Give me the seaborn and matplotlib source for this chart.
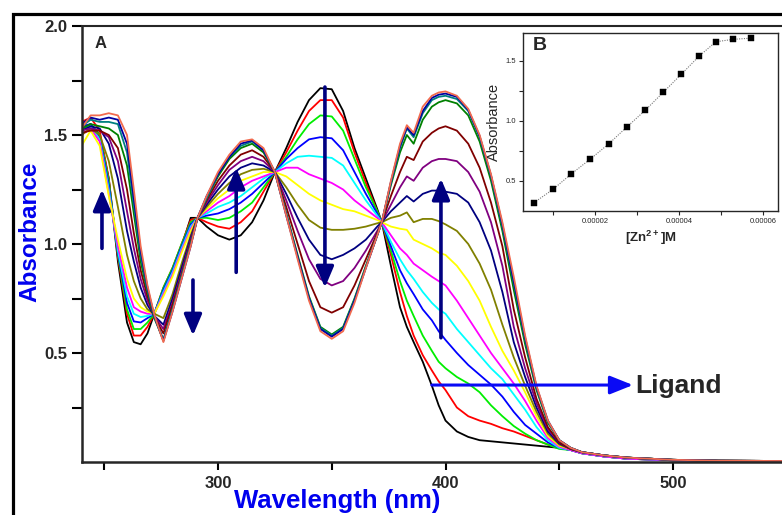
import matplotlib
matplotlib.use("Agg")
import matplotlib.pyplot as plt
from matplotlib.patches import Rectangle
from matplotlib.ticker import FixedLocator, FuncFormatter
import pandas as pd
import seaborn as sns

# ---- UV-vis titration spectra (absorbance vs wavelength, nm) ----
wavelength = [240, 244, 248, 252, 256, 260, 263, 266, 269, 272, 276, 280, 284, 288, 291,
              295, 300, 305, 310, 315, 320, 325,
              330, 335, 340, 345, 350, 355, 360, 365, 370, 372,
              376, 380, 383, 386, 390, 394, 397, 400,
              405, 410, 415, 420, 425, 430, 435, 440, 445, 450,
              455, 460, 470, 480, 500, 520, 560]

spec_01 = [1.52, 1.55, 1.50, 1.30, 0.92, 0.64, 0.55, 0.54, 0.59, 0.68, 0.79, 0.88, 0.99, 1.12, 1.12,
           1.08, 1.04, 1.02, 1.04, 1.10, 1.20, 1.33,
           1.44, 1.56, 1.66, 1.715, 1.71, 1.61, 1.44, 1.30, 1.16, 1.10,
           0.90, 0.71, 0.62, 0.55, 0.46, 0.35, 0.26, 0.19,
           0.14, 0.115, 0.10, 0.095, 0.09, 0.085, 0.08, 0.075, 0.07, 0.065,
           0.055, 0.04, 0.025, 0.015, 0.008, 0.005, 0.003]
spec_02 = [1.56, 1.58, 1.52, 1.30, 0.94, 0.68, 0.58, 0.58, 0.62, 0.68, 0.80, 0.89, 1.00, 1.11, 1.12,
           1.10, 1.08, 1.07, 1.10, 1.15, 1.24, 1.33,
           1.42, 1.52, 1.61, 1.66, 1.66, 1.58, 1.42, 1.28, 1.15, 1.10,
           0.95, 0.78, 0.67, 0.58, 0.49, 0.42, 0.37, 0.33,
           0.25, 0.21, 0.19, 0.175, 0.155, 0.14, 0.12, 0.10, 0.08, 0.065,
           0.055, 0.04, 0.025, 0.015, 0.008, 0.005, 0.003]
spec_03 = [1.53, 1.55, 1.50, 1.29, 0.95, 0.70, 0.61, 0.61, 0.64, 0.68, 0.80, 0.89, 1.00, 1.10, 1.12,
           1.12, 1.11, 1.12, 1.15, 1.19, 1.26, 1.33,
           1.40, 1.48, 1.55, 1.59, 1.585, 1.52, 1.39, 1.26, 1.15, 1.10,
           0.97, 0.83, 0.74, 0.67, 0.58, 0.51, 0.46, 0.43,
           0.39, 0.36, 0.32, 0.26, 0.21, 0.165, 0.13, 0.10, 0.08, 0.06,
           0.055, 0.04, 0.025, 0.015, 0.008, 0.005, 0.003]
spec_04 = [1.54, 1.55, 1.49, 1.27, 0.96, 0.73, 0.645, 0.64, 0.66, 0.68, 0.79, 0.88, 0.99, 1.09, 1.12,
           1.13, 1.14, 1.16, 1.19, 1.23, 1.28, 1.33,
           1.39, 1.44, 1.48, 1.49, 1.485, 1.43, 1.33, 1.23, 1.14, 1.10,
           0.99, 0.88, 0.82, 0.77, 0.70, 0.65, 0.60, 0.56,
           0.50, 0.445, 0.40, 0.355, 0.30, 0.23, 0.17, 0.13, 0.09, 0.065,
           0.055, 0.04, 0.025, 0.015, 0.008, 0.005, 0.003]
spec_05 = [1.52, 1.54, 1.48, 1.25, 0.97, 0.76, 0.68, 0.665, 0.67, 0.68, 0.78, 0.87, 0.98, 1.08, 1.12,
           1.14, 1.17, 1.19, 1.22, 1.26, 1.30, 1.33,
           1.37, 1.40, 1.405, 1.40, 1.395, 1.36, 1.28, 1.20, 1.13, 1.10,
           1.01, 0.93, 0.88, 0.84, 0.78, 0.73, 0.70, 0.68,
           0.61, 0.55, 0.49, 0.43, 0.38, 0.31, 0.24, 0.16, 0.10, 0.065,
           0.055, 0.04, 0.025, 0.015, 0.008, 0.005, 0.003]
spec_06 = [1.50, 1.53, 1.47, 1.23, 0.99, 0.80, 0.71, 0.69, 0.68, 0.68, 0.77, 0.86, 0.97, 1.07, 1.12,
           1.15, 1.19, 1.22, 1.26, 1.29, 1.31, 1.33,
           1.35, 1.35, 1.32, 1.30, 1.28, 1.25, 1.20, 1.16, 1.12, 1.10,
           1.04, 0.98, 0.95, 0.91, 0.88, 0.85, 0.83, 0.81,
           0.74, 0.66, 0.58, 0.50, 0.43, 0.36, 0.28, 0.19, 0.11, 0.07,
           0.055, 0.04, 0.025, 0.015, 0.008, 0.005, 0.003]
spec_07 = [1.45, 1.52, 1.45, 1.22, 1.02, 0.84, 0.75, 0.71, 0.69, 0.68, 0.76, 0.85, 0.96, 1.06, 1.12,
           1.16, 1.21, 1.25, 1.29, 1.31, 1.33, 1.33,
           1.31, 1.27, 1.23, 1.20, 1.18, 1.16, 1.15, 1.13, 1.11, 1.10,
           1.08, 1.07, 1.065, 1.02, 1.00, 0.98, 0.96, 0.95,
           0.90, 0.83, 0.74, 0.62, 0.51, 0.42, 0.32, 0.21, 0.12, 0.075,
           0.06, 0.045, 0.03, 0.02, 0.01, 0.006, 0.004]
spec_08 = [1.50, 1.53, 1.50, 1.38, 1.17, 0.95, 0.83, 0.75, 0.70, 0.68, 0.66, 0.77, 0.91, 1.04, 1.12,
           1.17, 1.23, 1.28, 1.32, 1.34, 1.345, 1.33,
           1.26, 1.18, 1.11, 1.075, 1.065, 1.065, 1.07, 1.08, 1.095, 1.10,
           1.12, 1.13, 1.145, 1.10, 1.115, 1.115, 1.105, 1.09,
           1.06, 1.00, 0.91, 0.79, 0.63, 0.48, 0.35, 0.23, 0.13, 0.08,
           0.06, 0.045, 0.03, 0.02, 0.01, 0.006, 0.004]
spec_09 = [1.52, 1.54, 1.53, 1.46, 1.30, 1.06, 0.92, 0.80, 0.72, 0.67, 0.63, 0.75, 0.89, 1.03, 1.12,
           1.18, 1.25, 1.31, 1.35, 1.37, 1.36, 1.33,
           1.23, 1.12, 1.02, 0.95, 0.93, 0.95, 0.98, 1.02, 1.08, 1.10,
           1.15, 1.19, 1.22, 1.195, 1.23, 1.245, 1.245, 1.24,
           1.23, 1.19, 1.10, 0.97, 0.78, 0.55, 0.39, 0.25, 0.14, 0.085,
           0.06, 0.045, 0.03, 0.02, 0.01, 0.006, 0.004]
spec_10 = [1.52, 1.53, 1.52, 1.49, 1.38, 1.15, 0.98, 0.84, 0.74, 0.67, 0.61, 0.73, 0.87, 1.02, 1.12,
           1.19, 1.27, 1.34, 1.38, 1.40, 1.38, 1.33,
           1.20, 1.06, 0.93, 0.84, 0.81, 0.83, 0.89, 0.97, 1.06, 1.10,
           1.18, 1.26, 1.31, 1.29, 1.35, 1.38, 1.39, 1.39,
           1.38, 1.33, 1.24, 1.10, 0.90, 0.62, 0.43, 0.27, 0.15, 0.09,
           0.06, 0.045, 0.03, 0.02, 0.01, 0.006, 0.004]
spec_11 = [1.51, 1.52, 1.52, 1.50, 1.44, 1.25, 1.05, 0.88, 0.76, 0.665, 0.59, 0.72, 0.86, 1.01, 1.12,
           1.20, 1.29, 1.36, 1.41, 1.43, 1.40, 1.33,
           1.17, 1.00, 0.83, 0.71, 0.685, 0.71, 0.81, 0.93, 1.05, 1.10,
           1.22, 1.33, 1.40, 1.385, 1.47, 1.51, 1.53, 1.54,
           1.52, 1.46, 1.35, 1.19, 0.99, 0.70, 0.48, 0.29, 0.16, 0.09,
           0.06, 0.045, 0.03, 0.02, 0.01, 0.006, 0.004]
spec_12 = [1.53, 1.55, 1.54, 1.53, 1.50, 1.36, 1.14, 0.92, 0.78, 0.66, 0.56, 0.70, 0.85, 1.00, 1.12,
           1.21, 1.31, 1.39, 1.44, 1.46, 1.42, 1.33,
           1.14, 0.95, 0.76, 0.62, 0.585, 0.62, 0.75, 0.90, 1.04, 1.10,
           1.27, 1.42, 1.50, 1.46, 1.57, 1.63, 1.65, 1.66,
           1.645, 1.59, 1.47, 1.29, 1.06, 0.79, 0.54, 0.33, 0.18, 0.10,
           0.065, 0.045, 0.03, 0.02, 0.01, 0.006, 0.004]
spec_13 = [1.54, 1.57, 1.56, 1.56, 1.55, 1.42, 1.18, 0.95, 0.79, 0.665, 0.56, 0.70, 0.85, 1.00, 1.12,
           1.21, 1.32, 1.40, 1.45, 1.47, 1.43, 1.33,
           1.14, 0.94, 0.755, 0.615, 0.58, 0.615, 0.745, 0.895, 1.04, 1.10,
           1.28, 1.44, 1.53, 1.49, 1.60, 1.66, 1.675, 1.68,
           1.665, 1.61, 1.49, 1.31, 1.08, 0.82, 0.56, 0.34, 0.185, 0.10,
           0.065, 0.045, 0.03, 0.02, 0.01, 0.006, 0.004]
spec_14 = [1.55, 1.58, 1.57, 1.58, 1.57, 1.46, 1.21, 0.97, 0.80, 0.67, 0.555, 0.69, 0.84, 0.99, 1.12,
           1.22, 1.32, 1.40, 1.46, 1.475, 1.43, 1.33,
           1.13, 0.94, 0.75, 0.61, 0.575, 0.61, 0.74, 0.89, 1.04, 1.10,
           1.285, 1.45, 1.535, 1.50, 1.61, 1.67, 1.685, 1.69,
           1.675, 1.615, 1.495, 1.315, 1.09, 0.83, 0.57, 0.345, 0.19, 0.10,
           0.065, 0.045, 0.03, 0.02, 0.01, 0.006, 0.004]
spec_15 = [1.53, 1.59, 1.59, 1.60, 1.59, 1.50, 1.25, 0.99, 0.81, 0.675, 0.55, 0.69, 0.84, 0.99, 1.12,
           1.22, 1.33, 1.41, 1.47, 1.48, 1.44, 1.33,
           1.13, 0.93, 0.74, 0.60, 0.565, 0.60, 0.73, 0.89, 1.04, 1.10,
           1.29, 1.46, 1.545, 1.51, 1.63, 1.68, 1.695, 1.70,
           1.68, 1.62, 1.50, 1.32, 1.10, 0.85, 0.58, 0.35, 0.19, 0.10,
           0.065, 0.045, 0.03, 0.02, 0.01, 0.006, 0.004]

line_colors = ["#000000", "#FF0000", "#00EE00", "#0000FF", "#00FFFF", "#FF00FF", "#FFFF00",
               "#808000", "#000080", "#800080", "#800000", "#008000", "#008080", "#0000A0",
               "#F26B4F"]

# ---- binding isotherm (inset B) ----
zn_conc = [5.5e-6, 10.0e-6, 14.4e-6, 18.8e-6, 23.3e-6, 27.6e-6, 32.0e-6,
           36.3e-6, 40.6e-6, 44.8e-6, 48.8e-6, 52.9e-6, 57.1e-6]
abs_400 = [0.32, 0.43, 0.56, 0.68, 0.81, 0.95, 1.09, 1.24, 1.39, 1.54, 1.66, 1.68, 1.69]

# arrows marking the spectral changes: (x_tail, y_tail, x_head, y_head)
trend_arrows = [(249, 0.98, 249, 1.25),
                (289, 0.835, 289, 0.58),
                (308, 0.87, 308, 1.35),
                (347, 1.72, 347, 0.80),
                (398, 0.57, 398, 1.30)]

sns.set_style("ticks")
plt.rcParams["font.family"] = ["Liberation Sans", "DejaVu Sans"]
plt.rcParams["mathtext.fontset"] = "custom"
plt.rcParams["mathtext.rm"] = "Liberation Sans"
plt.rcParams["mathtext.bf"] = "Liberation Sans:bold"

W, H = 782, 515
fig = plt.figure(figsize=(W / 100, H / 100), dpi=100)
fig.patch.set_facecolor("white")

# outer frame of the figure
fig.patches.append(Rectangle((13.5 / W, -0.1), 1.2, (H - 13.5) / H + 0.1,
                             transform=fig.transFigure, fill=False,
                             edgecolor="black", lw=2.3, zorder=0))

ax = fig.add_axes([81.5 / W, 53 / H, 728 / W, 436 / H])
spectra = [spec_01, spec_02, spec_03, spec_04, spec_05, spec_06, spec_07, spec_08,
           spec_09, spec_10, spec_11, spec_12, spec_13, spec_14, spec_15]
names = [f"S{i + 1:02d}" for i in range(len(spectra))]
df = pd.concat([pd.DataFrame({"wavelength": wavelength, "absorbance": s, "spectrum": n})
                for s, n in zip(spectra, names)], ignore_index=True)
sns.lineplot(data=df, x="wavelength", y="absorbance", hue="spectrum", hue_order=names,
             palette=dict(zip(names, line_colors)), legend=False, sort=False,
             estimator=None, lw=1.3, ax=ax)

ax.set_xlim(240, 560)
ax.set_ylim(0, 2.0)
ax.set_xlabel("")
ax.set_ylabel("")
ax.xaxis.set_major_locator(FixedLocator([300, 400, 500]))
ax.xaxis.set_minor_locator(FixedLocator([250, 350, 450, 550]))
ax.yaxis.set_major_locator(FixedLocator([0.5, 1.0, 1.5, 2.0]))
ax.yaxis.set_minor_locator(FixedLocator([0.25, 0.75, 1.25, 1.75]))
ax.tick_params(which="both", direction="out", length=7, width=1.5, color="black")
ax.tick_params(axis="x", which="both", length=6, pad=4)
ax.tick_params(axis="both", labelsize=12)
for lab in ax.get_xticklabels() + ax.get_yticklabels():
    lab.set_fontweight("bold")
for side in ("left", "bottom"):
    ax.spines[side].set_linewidth(1.8)
ax.spines["top"].set_linewidth(1.5)
ax.spines["right"].set_visible(False)

navy = "#000080"
for x0, y0, x1, y1 in trend_arrows:
    ax.annotate("", xy=(x1, y1), xytext=(x0, y0),
                arrowprops=dict(arrowstyle="-|>,head_length=0.9,head_width=0.38",
                                mutation_scale=14, lw=2.6, color=navy,
                                shrinkA=0, shrinkB=0))

# ligand marker
ax.annotate("", xy=(482.4, 0.353), xytext=(394, 0.353),
            arrowprops=dict(arrowstyle="-|>,head_length=1.0,head_width=0.4",
                            mutation_scale=14, lw=2.2, color="#0A0AF5",
                            shrinkA=0, shrinkB=0))
ax.text(483.5, 0.349, "Ligand", fontsize=19, fontweight="bold", ha="left", va="center")

fig.text(101 / W, 1 - 44 / H, "A", fontsize=12, fontweight="bold", ha="center", va="center")
fig.text(30 / W, 1 - 232 / H, "Absorbance", rotation=90, fontsize=17.5,
         fontweight="bold", color="#0000EE", ha="center", va="center")
fig.text(337 / W, 1 - 501 / H, "Wavelength (nm)", fontsize=18.5,
         fontweight="bold", color="#0000EE", ha="center", va="center")

# ---- inset B ----
axin = fig.add_axes([523 / W, (H - 211) / H, 255 / W, 178 / H])
axin.set_facecolor("white")
sns.lineplot(x=zn_conc, y=abs_400, ax=axin, color="#777777", lw=0.8,
             linestyle=(0, (1, 1.2)), sort=False, estimator=None)
sns.scatterplot(x=zn_conc, y=abs_400, ax=axin, marker="s", s=16, color="black",
                edgecolor="black", linewidth=0.3, zorder=3)
axin.set_xlim(2.86e-6, 6.36e-5)
axin.set_ylim(0.25, 1.733)
axin.xaxis.set_major_locator(FixedLocator([2e-5, 4e-5, 6e-5]))
axin.xaxis.set_minor_locator(FixedLocator([1e-5, 3e-5, 5e-5]))
axin.xaxis.set_major_formatter(FuncFormatter(lambda v, p: f"{v:.5f}"))
axin.yaxis.set_major_locator(FixedLocator([0.5, 1.0, 1.5]))
axin.yaxis.set_minor_locator(FixedLocator([0.75, 1.25]))
axin.tick_params(which="both", direction="out", length=3, width=0.8, labelsize=5.5, pad=2)
for sp in axin.spines.values():
    sp.set_linewidth(1.0)
    sp.set_visible(True)
axin.set_xlabel(r"[Zn$\mathbf{^{2+}}$]M", fontsize=9.5, fontweight="bold", labelpad=3)
axin.set_ylabel("Absorbance", fontsize=10.5, labelpad=3)
fig.text(540 / W, 1 - 46 / H, "B", fontsize=14, fontweight="bold", ha="center", va="center")

fig.savefig("out.png", dpi=100, facecolor="white")
